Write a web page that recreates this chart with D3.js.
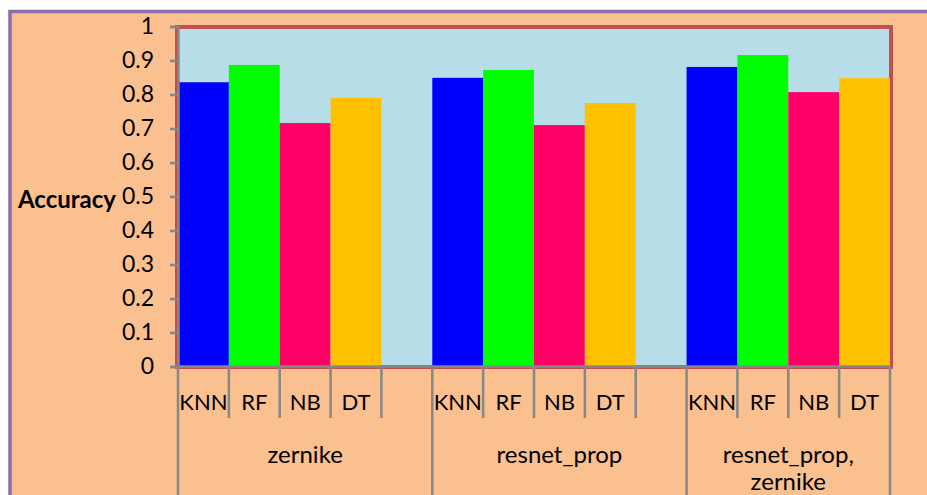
<!DOCTYPE html>
<html>
<head>
<meta charset="utf-8">
<script src="https://cdn.jsdelivr.net/npm/d3@7/dist/d3.min.js"></script>
<style>
  html, body { margin: 0; padding: 0; background: #fff; }
  svg { display: block; font-family: Lato, "Open Sans", sans-serif; }
</style>
</head>
<body>
<svg id="chart" width="927" height="495"></svg>
<script>
const groups = ["zernike", "resnet_prop", "resnet_prop, zernike"];
const classifiers = ["KNN", "RF", "NB", "DT"];
const accZernike = [0.836, 0.887, 0.716, 0.790];
const accResnetProp = [0.849, 0.872, 0.710, 0.775];
const accBoth = [0.881, 0.916, 0.807, 0.848];
const yTicks = [0, 0.1, 0.2, 0.3, 0.4, 0.5, 0.6, 0.7, 0.8, 0.9, 1];
const colors = ["#0000ff", "#00ff00", "#ff0066", "#ffc000"];

const W = 927, H = 495;
const plot = { left: 178, right: 890, top: 26.5, bottom: 366.5 };

const series = [accZernike, accResnetProp, accBoth];
// one slot per bar, plus an empty slot between groups
const slots = [];
groups.forEach((g, gi) => {
  classifiers.forEach((c, ci) => slots.push({ key: `${gi}-${c}`, group: gi, label: c, value: series[gi][ci], color: colors[ci] }));
  if (gi < groups.length - 1) slots.push({ key: `${gi}-gap`, group: gi, label: "", value: null });
});

const svg = d3.select("#chart");
const x = d3.scaleBand().domain(slots.map(d => d.key)).range([plot.left, plot.right]).padding(0);
const y = d3.scaleLinear().domain([0, 1]).range([plot.bottom, plot.top]);

// outer frame
svg.append("rect")
  .attr("x", 10).attr("y", 11.5)
  .attr("width", W + 20).attr("height", H + 20)
  .attr("fill", "#fac090")
  .attr("stroke", "#8b6daa").attr("stroke-width", 3.5);

// plot area
svg.append("rect")
  .attr("x", plot.left - 1).attr("y", plot.top + 0.5)
  .attr("width", plot.right - plot.left + 2).attr("height", plot.bottom - plot.top)
  .attr("fill", "#b7dde8")
  .attr("stroke", "#c0504d").attr("stroke-width", 4);

svg.append("g")
  .selectAll("rect")
  .data(slots.filter(d => d.value !== null))
  .join("rect")
  .attr("x", d => x(d.key))
  .attr("y", d => y(d.value))
  .attr("width", x.bandwidth())
  .attr("height", d => y(0) - y(d.value))
  .attr("fill", d => d.color);

// y axis
const yAxis = svg.append("g")
  .attr("transform", `translate(${plot.left},0)`)
  .call(d3.axisLeft(y).tickValues(yTicks).tickSize(8).tickPadding(16).tickFormat(d3.format("~g")));
yAxis.select(".domain").attr("stroke", "#878787").attr("stroke-width", 2.5);
yAxis.selectAll(".tick line").attr("stroke", "#878787").attr("stroke-width", 2.5);
yAxis.selectAll(".tick text").attr("font-size", 23).attr("fill", "#000").attr("font-family", "Lato, sans-serif");

svg.append("text")
  .attr("x", 116).attr("y", 198)
  .attr("text-anchor", "end").attr("dominant-baseline", "central")
  .attr("font-size", 24).attr("font-weight", "bold")
  .text("Accuracy");

// x axis (two-level)
const xg = svg.append("g").attr("stroke", "#878787").attr("stroke-width", 2.5);
xg.append("line")
  .attr("x1", plot.left).attr("x2", plot.right)
  .attr("y1", y(0)).attr("y2", y(0));

const groupStarts = groups.map((g, gi) => x(slots.find(s => s.group === gi).key));
const edges = slots.map(s => x(s.key)).concat([plot.right]);
edges.forEach(e => {
  const isGroupEdge = groupStarts.includes(e) || e === plot.right;
  xg.append("line")
    .attr("x1", e).attr("x2", e)
    .attr("y1", y(0)).attr("y2", isGroupEdge ? H + 5 : 418);
});

svg.append("g")
  .selectAll("text")
  .data(slots.filter(d => d.label))
  .join("text")
  .attr("x", d => x(d.key) + x.bandwidth() / 2)
  .attr("y", 401)
  .attr("text-anchor", "middle").attr("dominant-baseline", "central")
  .attr("font-size", 22)
  .text(d => d.label);

groups.forEach((g, gi) => {
  const left = groupStarts[gi];
  const right = gi < groups.length - 1 ? groupStarts[gi + 1] : plot.right;
  const lines = g.includes(", ") ? g.split(", ").map((s, i, a) => i < a.length - 1 ? s + "," : s) : [g];
  lines.forEach((ln, li) => {
    svg.append("text")
      .attr("x", (left + right) / 2)
      .attr("y", 453 + li * 27)
      .attr("text-anchor", "middle").attr("dominant-baseline", "central")
      .attr("font-size", 24)
      .text(ln);
  });
});
</script>
</body>
</html>
